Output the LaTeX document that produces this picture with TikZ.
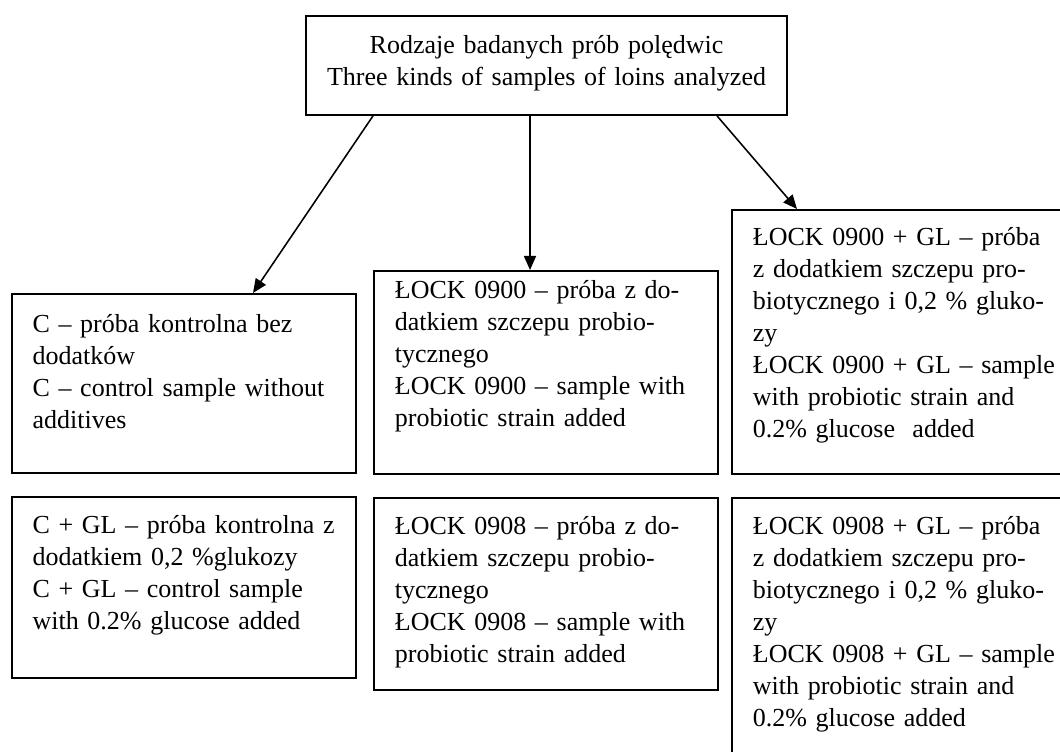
\documentclass[tikz,border=0pt]{standalone}
\usepackage{fontspec}
\setmainfont{Liberation Serif}
\usepackage{tikz}
\usetikzlibrary{arrows.meta, positioning, calc}

\begin{document}
\begin{tikzpicture}[x=0.45pt, y=-0.45pt, font=\fontsize{11.7}{14.4}\selectfont]
    \tikzstyle{box} = [rectangle, draw=black, line width=0.9pt, anchor=north west, align=left, text width=136pt, inner xsep=9.4pt, inner ysep=0pt, execute at begin node={\hyphenpenalty=10000\rightskip=0pt plus 1fil minus 20pt}]
    \tikzstyle{titlebox} = [rectangle, draw=black, line width=0.9pt, anchor=north west, align=center, text width=216.5pt, inner sep=0pt]
    \tikzstyle{arrow} = [line width=0.7pt, -{Triangle[length=6.3pt, width=5.4pt]}]

    \useasboundingbox (0,0) rectangle (1060,752);
    \clip (0,0) rectangle (1060,752);

    % Title
    \node (title) [titlebox, text height=16.9pt, text depth=27.6pt] at (305,15) {Rodzaje badanych prób polędwic\\Three kinds of samples of loins analyzed};

    % Samples, first row
    \node (ctrl) [box, text height=17.4pt, text depth=63.1pt] at (10.7,293) {C – próba kontrolna bez\\dodatków\\C – control sample without\\additives};
    \node (lockA) [box, text height=12.2pt, text depth=79.2pt] at (373,270) {ŁOCK 0900 – próba z do-\\datkiem szczepu probio-\\tycznego\\ŁOCK 0900 – sample with\\probiotic strain added};
    \node (lockAgl) [box, text height=15.8pt, text depth=103pt] at (731,209) {ŁOCK 0900 + GL – próba\\z dodatkiem szczepu pro-\\biotycznego i 0,2 \% gluko-\\zy\\ŁOCK 0900 + GL – sample\\with probiotic strain and\\0.2\% glucose\ \ added};

    % Samples, second row
    \node (ctrlgl) [box, below=10pt of ctrl.south west, anchor=north west, text height=16.2pt, text depth=65.3pt] {C + GL – próba kontrolna z\\dodatkiem 0,2 \%glukozy\\C + GL – control sample\\with 0.2\% glucose added};
    \node (lockB) [box, below=10pt of lockA.south west, anchor=north west, text height=16.2pt, text depth=70.2pt] {ŁOCK 0908 – próba z do-\\datkiem szczepu probio-\\tycznego\\ŁOCK 0908 – sample with\\probiotic strain added};
    \node (lockBgl) [box, below=10pt of lockAgl.south west, anchor=north west, text height=16.2pt, text depth=130pt] {ŁOCK 0908 + GL – próba\\z dodatkiem szczepu pro-\\biotycznego i 0,2 \% gluko-\\zy\\ŁOCK 0908 + GL – sample\\with probiotic strain and\\0.2\% glucose added};

    % Connections
    \draw [arrow] ($(title.south west)+(68,0)$) -- ($(ctrl.north west)+(242.3,0)$);
    \draw [arrow] ($(title.south west)+(225,0)$) -- ($(lockA.north west)+(157,0)$);
    \draw [arrow] ($(title.south west)+(412,0)$) -- ($(lockAgl.north west)+(66,0)$);
\end{tikzpicture}
\end{document}
